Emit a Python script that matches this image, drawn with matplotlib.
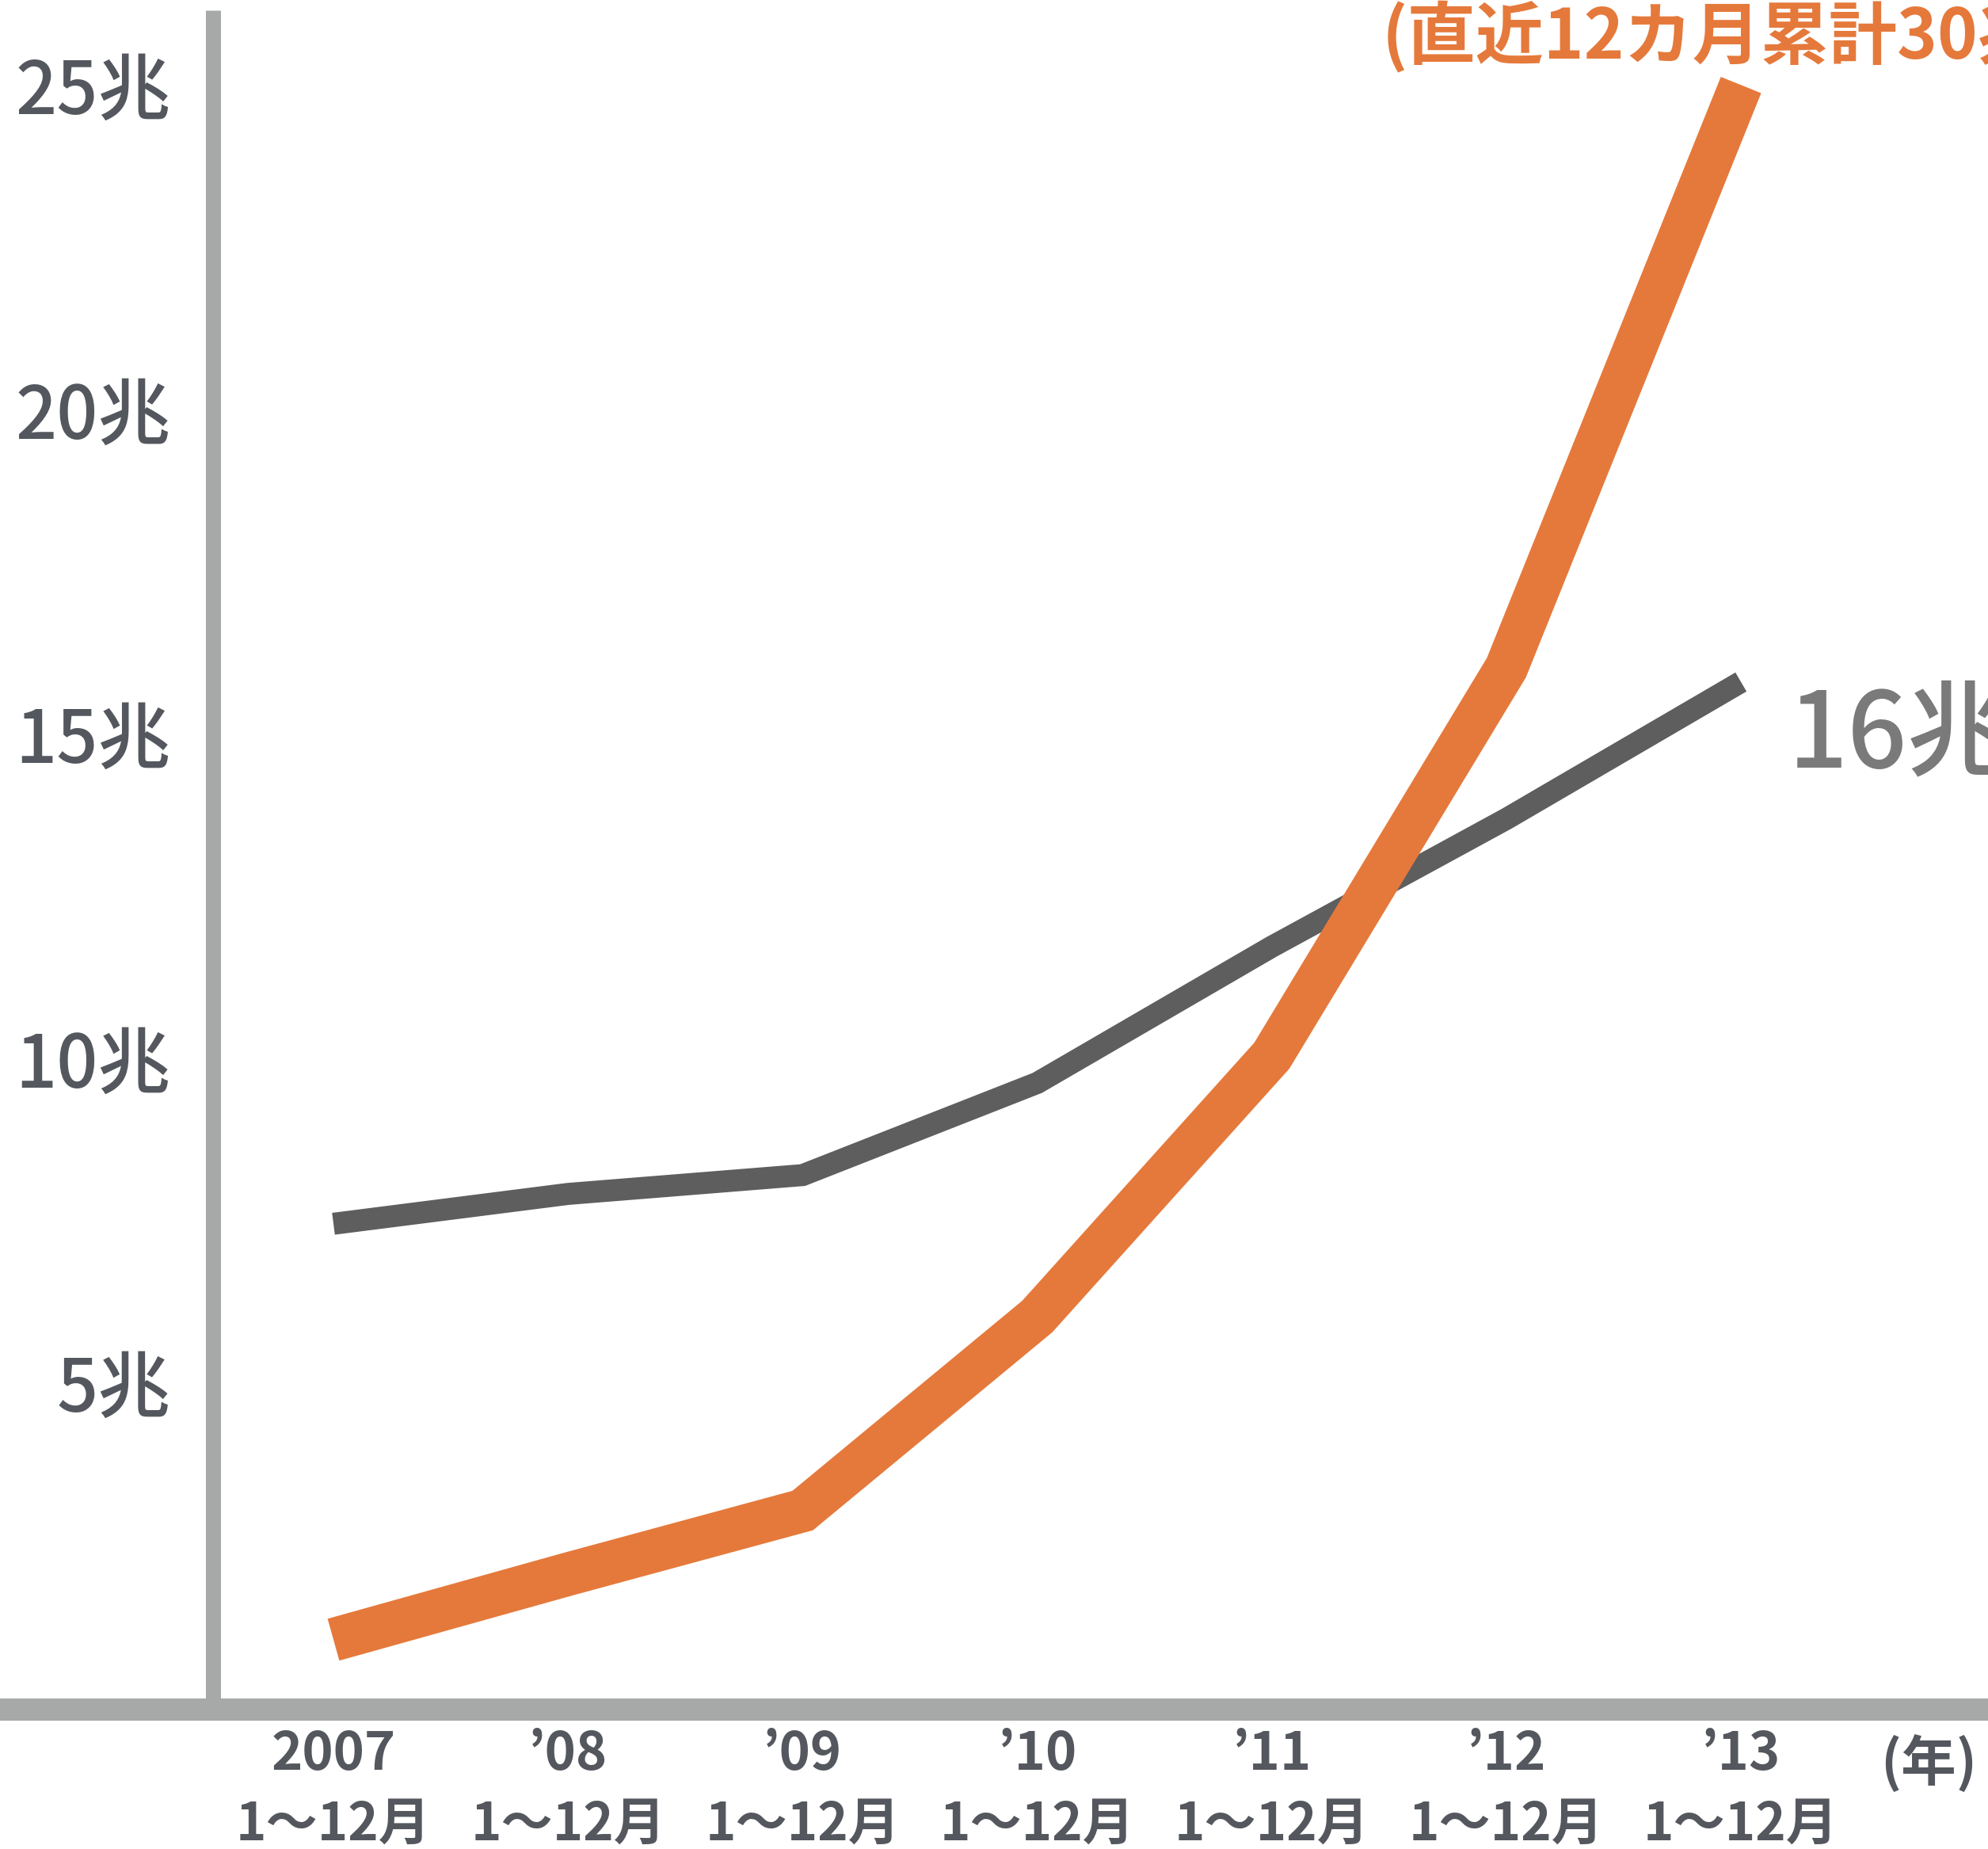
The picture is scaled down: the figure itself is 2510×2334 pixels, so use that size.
"""
Line chart: two series from 2007 to 2013, in 兆
"""

import matplotlib
matplotlib.use("Agg")
import matplotlib.pyplot as plt

plt.rcParams['font.family'] = ['Noto Sans CJK JP', 'DejaVu Sans']

years = ["2007", "’08", "’09", "’10", "’11", "’12", "’13"]
months = ["1〜12月"] * 7
gray_values = [7.45, 7.91, 8.20, 9.62, 11.72, 13.69, 15.80]
orange_values = [1.04, 2.05, 3.03, 6.02, 10.04, 16.02, 25.00]
y_ticks = [5, 10, 15, 20, 25]
y_tick_labels = ["5兆", "10兆", "15兆", "20兆", "25兆"]
gray_label = "16兆"
orange_label = "(直近12カ月累計30兆)"
year_unit = "(年)"

ORANGE = "#e5793b"
DARK = "#5e5e5e"
AXIS = "#a6a9a8"
TEXT = "#54585e"

W, H = 2510, 2334
fig = plt.figure(figsize=(W / 100, H / 100), dpi=100)
ax = fig.add_axes([268.5 / W, 176 / H, 1 - 268.5 / W, 2158 / H])
ax.set_xlim(-0.515, 7.053)
ax.set_ylim(-0.037, 26.31)

x = list(range(len(years)))
ax.plot(x, gray_values, color=DARK, lw=20, solid_capstyle='butt',
        solid_joinstyle='miter', zorder=3)
ax.plot(x, orange_values, color=ORANGE, lw=39.5, solid_capstyle='butt',
        solid_joinstyle='miter', zorder=4)

# axes look
for side in ['top', 'right']:
    ax.spines[side].set_visible(False)
ax.spines['left'].set_linewidth(13.7)
ax.spines['left'].set_color(AXIS)
ax.spines['left'].set_capstyle('butt')
ax.spines['left'].set_bounds(-0.037, 26.15)
ax.spines['bottom'].set_linewidth(20.2)
ax.spines['bottom'].set_color(AXIS)
ax.spines['bottom'].set_capstyle('butt')
ax.spines['bottom'].set_bounds(-1.5, 7.1)

ax.tick_params(length=0)
ax.set_yticks(y_ticks, y_tick_labels, fontsize=66, color=TEXT,
              fontweight='medium')
ax.tick_params(axis='y', pad=38)
ax.set_xticks([])

for i, (yr, mo) in enumerate(zip(years, months)):
    ax.text(i, -0.965, yr, ha='center', va='baseline', fontsize=48,
            fontweight='bold', color=TEXT)
    ax.text(i, -2.05, mo, ha='center', va='baseline', fontsize=47,
            fontweight='bold', color=TEXT)

ax.text(6.80, -0.89, year_unit, ha='center', va='center', fontsize=50,
        fontweight='bold', color=TEXT)
ax.text(6.20, 14.49, gray_label, ha='left', va='baseline', fontsize=95,
        fontweight='medium', color='#7a7a7a')
ax.text(4.47, 25.40, orange_label, ha='left', va='baseline', fontsize=62,
        fontweight='bold', color=ORANGE)

fig.savefig("out.png", dpi=100)
